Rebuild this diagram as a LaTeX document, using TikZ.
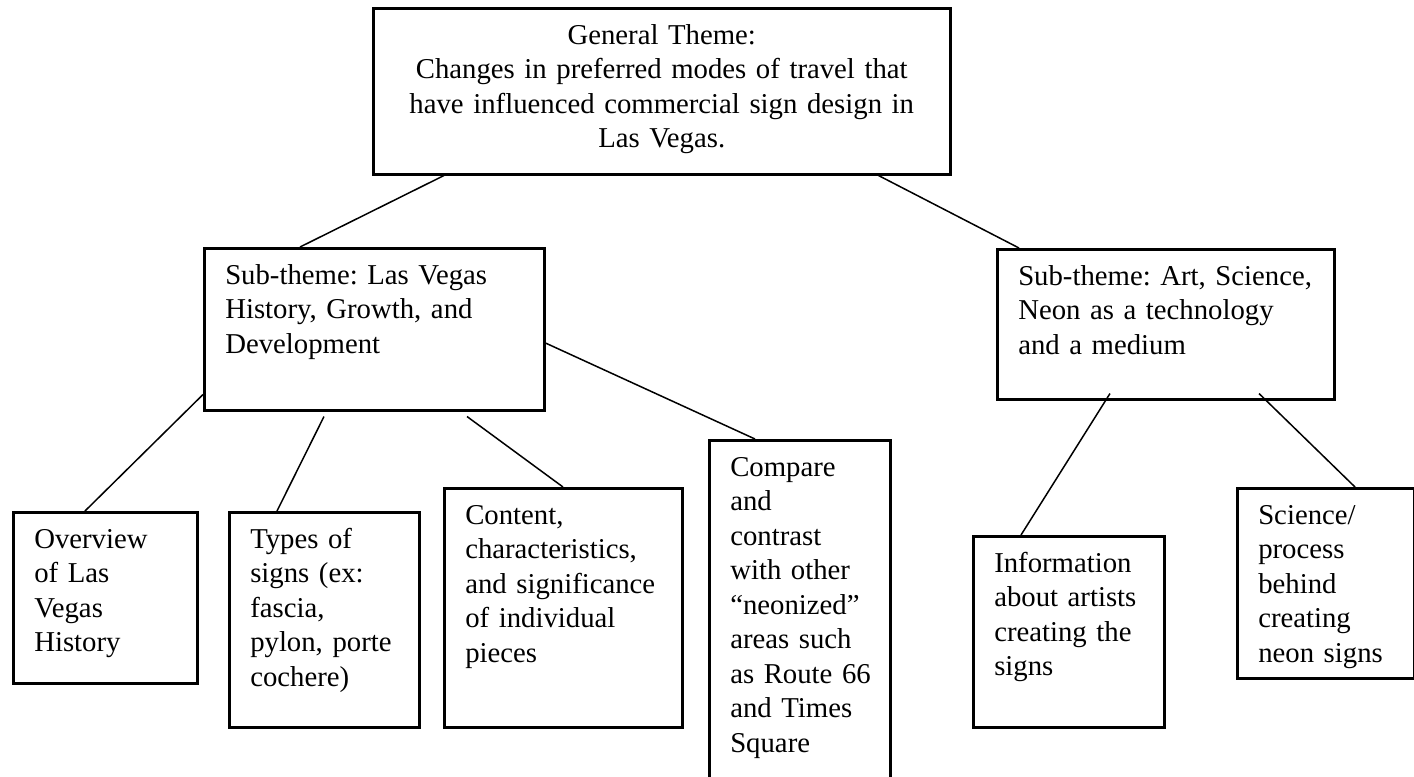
\documentclass[tikz,border=0pt]{standalone}
\usepackage{fontspec}
\setmainfont{Liberation Serif}
\hyphenpenalty=10000
\exhyphenpenalty=10000
\frenchspacing

\begin{document}
\begin{tikzpicture}[x=0.4pt,y=-0.4pt,
  font=\fontsize{11.5pt}{13.8pt}\selectfont,
  themebox/.style={draw,line width=1pt,anchor=north west,align=left,
    inner xsep=8.4pt,inner ysep=0pt,text height=14.4pt},
  link/.style={line width=0.6pt}]
  \useasboundingbox (0,0) rectangle (1414,776);
  \node [themebox,align=center,text width=214pt,text depth=52pt] (general) at (372,7)
    {General Theme:\\Changes in preferred modes of travel that\\have influenced commercial sign design in\\Las Vegas.};
  \node [themebox,text width=119.2pt,text depth=50.4pt] (history) at (203,247)
    {Sub-theme: Las Vegas\\History, Growth, and\\Development};
  \node [themebox,text width=118pt,text depth=45.6pt] (neon) at (996,248)
    {Sub-theme:~Art,~Science,\\Neon as a technology\\and a medium};
  \node [themebox,text width=56.8pt,text depth=54pt] (overview) at (12,511)
    {Overview\\of Las\\Vegas\\History};
  \node [themebox,text width=59.2pt,text depth=71.6pt] (types) at (228,511)
    {Types of\\signs (ex:\\fascia,\\pylon,~porte\\cochere)};
  \node [themebox,text width=78.4pt,text depth=81.2pt] (content) at (443,487)
    {Content,\\characteristics,\\and~significance\\of individual\\pieces};
  \node [themebox,text width=55.6pt,text depth=126pt] (compare) at (708,439)
    {Compare\\and\\contrast\\with other\\``neonized''\\areas such\\as~Route~66\\and Times\\Square};
  \node [themebox,text width=59.6pt,text depth=62pt] (artists) at (972,535)
    {Information\\about~artists\\creating the\\signs};
  \node [themebox,text width=54pt,text depth=61.6pt] (science) at (1236,487)
    {Science/\\process\\behind\\creating\\neon signs};
  % connectors
  \draw [link] ([xshift=28.8pt]general.south west) -- ([xshift=38.8pt]history.north west);
  \draw [link] ([xshift=-29.2pt]general.south east) -- ([xshift=9.2pt]neon.north west);
  \draw [link] ([yshift=6.8pt]history.south west) -- ([xshift=29.2pt]overview.north west);
  \draw [link] ([xshift=48.4pt,yshift=-2pt]history.south west) -- ([xshift=19.6pt]types.north west);
  \draw [link] ([xshift=105.6pt,yshift=-2pt]history.south west) -- ([xshift=48pt]content.north west);
  \draw [link] ([yshift=-38.4pt]history.north east) -- ([xshift=18.8pt]compare.north west);
  \draw [link] ([xshift=45.6pt,yshift=2.8pt]neon.south west) -- ([xshift=19.6pt]artists.north west);
  \draw [link] ([xshift=105.2pt,yshift=2.8pt]neon.south west) -- ([xshift=47.6pt]science.north west);
\end{tikzpicture}
\end{document}
